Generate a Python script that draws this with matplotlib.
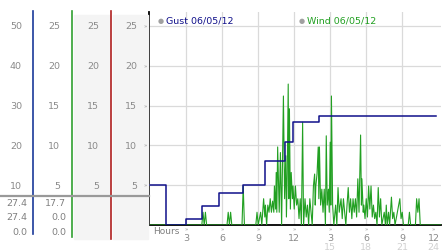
import matplotlib.pyplot as plt
from matplotlib.transforms import blended_transform_factory

# gust: hour where the step starts and its value
gust_hours = [0, 1.3, 3.0, 4.3, 5.7, 7.7, 9.6, 11.2, 11.9, 14.1, 23.8]
gust_vals = [5, 0, 0.75, 2.4, 4.0, 5.0, 8.0, 10.4, 12.9, 13.75, 13.75]

# wind: readings (hour, mph)
wind_hours = [
    0, 4.3, 4.4, 4.5, 4.6, 4.7, 6.4, 6.5, 6.6, 6.7, 6.8, 7.65, 7.75, 7.85,
    8.8, 8.9, 9.0, 9.2, 9.3, 9.45, 9.55, 9.6, 9.7, 9.8, 9.9, 10.0, 10.1, 10.2,
    10.3, 10.35, 10.45, 10.5, 10.55, 10.62, 10.7, 10.75, 10.85, 10.95, 11.1,
    11.2, 11.3, 11.35, 11.42, 11.5, 11.55, 11.6, 11.68, 11.75, 11.85, 11.9,
    12.0, 12.1, 12.2, 12.3, 12.4, 12.5, 12.6, 12.7, 12.78, 12.9, 13.0, 13.1,
    13.2, 13.3, 13.4, 13.5, 13.6, 13.7, 13.75, 13.8, 13.9, 14.0, 14.05, 14.1,
    14.2, 14.3, 14.4, 14.5, 14.6, 14.67, 14.75, 14.85, 14.92, 15.0, 15.05,
    15.1, 15.2, 15.3, 15.45, 15.55, 15.65, 15.75, 15.9, 16.0, 16.1, 16.2,
    16.3, 16.4, 16.5, 16.6, 16.7, 16.8, 16.9, 17.0, 17.1, 17.2, 17.3, 17.4,
    17.53, 17.6, 17.64, 17.75, 17.8, 17.9, 18.0, 18.1, 18.2, 18.3, 18.4,
    18.5, 18.6, 18.7, 18.8, 18.9, 19.0, 19.1, 19.2, 19.3, 19.5, 19.6, 19.67,
    19.75, 19.86, 19.95, 20.1, 20.2, 20.3, 20.4, 20.8, 20.9, 21.0, 21.1,
    21.5, 21.6, 21.7, 22.1, 22.2, 22.3, 22.4, 22.5, 24.2,
]
wind_vals = [
    0, 0, 1.6, 0, 1.6, 0, 0, 1.6, 0, 1.6, 0, 0, 4.9, 0,
    0, 1.6, 0, 1.6, 0, 3.3, 1.0, 2.5, 0, 2.5, 1.6, 3.3, 1.6, 3.0,
    1.6, 4.9, 2.0, 6.6, 1.6, 9.8, 4.5, 1.6, 9.1, 0, 16.2,
    3.3, 8.7, 1.0, 6.5, 17.7, 3.3, 14.6, 2.0, 6.6, 3.3, 4.9,
    2.0, 4.9, 2.5, 3.3, 0.8, 3.3, 0, 12.9, 0, 3.3, 1.0, 2.5,
    0, 3.3, 1.6, 0, 4.9, 6.4, 2.5, 4.9, 6.4, 9.8, 3.3, 9.8,
    2.5, 4.5, 1.6, 4.5, 0, 11.2, 2.5, 4.5, 1.6, 10.4, 2.5,
    16.2, 2.5, 0, 2.5, 0, 4.7, 1.6, 3.3, 0.8, 3.3, 1.6,
    0, 2.5, 4.7, 1.6, 3.3, 0.8, 3.3, 1.6, 3.3, 1.0, 5.8, 1.6,
    11.3, 2.5, 5.8, 1.6, 2.5, 0.8, 3.3, 1.0, 4.9, 2.0, 4.9,
    1.0, 2.5, 0.8, 1.6, 0, 4.7, 1.0, 3.3, 0, 1.6, 0, 2.5,
    0, 1.6, 0, 3.5, 0.8, 1.6, 0, 3.3, 0.8, 1.6, 0,
    0, 1.6, 0, 0, 3.3, 1.6, 3.3, 0, 0,
]

hour_ticks = [3, 6, 9, 12, 15, 18, 21, 24]
hour_labels = ['3', '6', '9', '12', '3', '6', '9', '12']
hour_labels2 = ['15', '18', '21', '24']

speed_ticks = [5, 10, 15, 20, 25]
col1_labels = ['10', '20', '30', '40', '50']
col1_read = ['27.4', '27.4', '0.0']
col2_read = ['17.7', '0.0', '0.0']

W, H = 442, 253
fig = plt.figure(figsize=(W / 100, H / 100), dpi=100)
fig.patch.set_facecolor('white')


def py(y):
    # pixel row -> speed value on the shared vertical scale
    return (226 - y) / 7.96


# main chart
ax = fig.add_axes([149 / W, 27 / H, 292 / W, 213 / H])
ax.set_xlim(-0.1, 24.23)
ax.set_ylim(0, 26.75)
ax.set_xticks(hour_ticks[:-1])
ax.set_yticks(speed_ticks)
ax.grid(True, color='#dadada', lw=0.9)
ax.set_axisbelow(True)
ax.tick_params(length=0, labelbottom=False, labelleft=False)
for s in ['top', 'right']:
    ax.spines[s].set_visible(False)
ax.spines['left'].set_linewidth(1.3)
ax.spines['bottom'].set_linewidth(1.3)

ax.plot(wind_hours, wind_vals, color='#22a022', lw=0.8, zorder=3)
ax.plot(gust_hours, gust_vals, color='#10108a', lw=1.1, drawstyle='steps-post', zorder=4)

# legend entries
fig.text(161 / W, 1 - 21 / H, '●', color='#a0a0a0', fontsize=5, ha='center', va='center')
fig.text(166 / W, 1 - 21 / H, 'Gust 06/05/12', color='#10108a', fontsize=6.8, va='center')
fig.text(302 / W, 1 - 21 / H, '●', color='#a0a0a0', fontsize=5, ha='center', va='center')
fig.text(307 / W, 1 - 21 / H, 'Wind 06/05/12', color='#22a022', fontsize=6.8, va='center')

# hour labels
tr = blended_transform_factory(ax.transData, fig.transFigure)
for h, lab in zip(hour_ticks, hour_labels):
    xx = min(h, 23.6)
    ax.text(xx, 1 - 238.5 / H, lab, transform=tr, ha='center', va='center',
            fontsize=6.8, color='#8a8a8a')
    ax.text(xx, 1 - 230 / H, '»', transform=tr, ha='center', va='center',
            fontsize=4, color='#999999')
for h, lab in zip(hour_ticks[4:], hour_labels2):
    xx = min(h, 23.6)
    ax.text(xx, 1 - 247.5 / H, lab, transform=tr, ha='center', va='center',
            fontsize=6.8, color='#d0d0d0')
fig.text(153 / W, 1 - 232 / H, 'Hours', color='#808080', fontsize=6.5, va='center')

# left scale panel
lp = fig.add_axes([0, 27 / H, 149 / W, 213 / H])
lp.set_xlim(0, 149)
lp.set_ylim(0, 26.75)
lp.axis('off')
lp.fill_between([113, 148], py(240), py(16), color='#f4f4f4', zorder=0, clip_on=False)
lp.fill_between([74, 110], py(240), py(16), color='#f4f4f4', zorder=0, clip_on=False)

lp.plot([33, 33], [py(235), py(12)], color='#1a3a9a', lw=1.2, clip_on=False)
lp.plot([72, 72], [py(238), py(12)], color='#30a030', lw=1.2, clip_on=False)
lp.plot([111, 111], [py(240), py(12)], color='#b02020', lw=1.2, clip_on=False)
lp.plot([0, 149], [py(197), py(197)], color='#999999', lw=1.6, clip_on=False)

for v, lab in zip(speed_ticks, col1_labels):
    lp.text(22, v, lab, ha='right', va='center', fontsize=6.8, color='#8a8a8a')
for v in speed_ticks:
    lp.text(60, v, str(v), ha='right', va='center', fontsize=6.8, color='#8a8a8a')
    lp.text(99, v, str(v), ha='right', va='center', fontsize=6.8, color='#8a8a8a')
    lp.text(137, v, str(v), ha='right', va='center', fontsize=6.8, color='#8a8a8a')
    lp.text(145, v, '»', ha='center', va='center', fontsize=4, color='#999999')

for yy, a, b in zip([204, 218, 232], col1_read, col2_read):
    lp.text(27, py(yy), a, ha='right', va='center', fontsize=6.8, color='#808080', clip_on=False)
    lp.text(66, py(yy), b, ha='right', va='center', fontsize=6.8, color='#808080', clip_on=False)

plt.savefig('out.png', dpi=100)
